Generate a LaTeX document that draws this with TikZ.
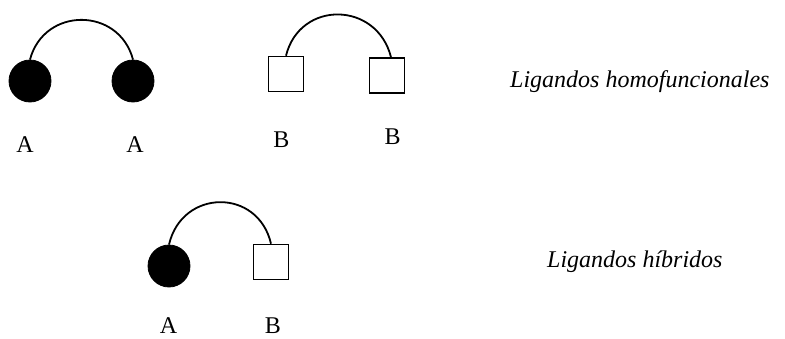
\documentclass[tikz,border=0pt]{standalone}
\usepackage{fontspec}
\setmainfont{Liberation Serif}
\begin{document}
\begin{tikzpicture}[x=1pt,y=-1pt,
  ball/.style={circle,draw,fill=black,minimum size=42pt,inner sep=0pt,line width=0.8pt},
  box/.style={rectangle,draw,fill=white,minimum size=35pt,inner sep=0pt,line width=1.6pt},
  lbl/.style={anchor=base,inner sep=0pt,font=\fontsize{24}{28}\selectfont},
  captxt/.style={anchor=base west,inner sep=0pt,font=\fontsize{24}{28}\selectfont\itshape},
  link/.style={line width=1.8pt}]
\useasboundingbox (0,0) rectangle (785,338);
% top row, A-A
\node[ball] (a1) at (30,81) {};
\node[ball] (a2) at (133,81) {};
\draw[link] (a1.north) .. controls +(14,-53) and +(-14,-53) .. (a2.north);
\node[lbl] (la1) at (25,152) {A};
\node[lbl] (la2) at (135,152) {A};
% top row, B-B
\node[box] (b1) at (286,74) {};
\node[box] (b2) at (387,75.5) {};
\draw[link] (b1.north) .. controls +(14,-56) and +(-14,-56) .. ([xshift=4pt]b2.north);
\node[lbl] (lb1) at (281.5,147) {B};
\node[lbl] (lb2) at (392.5,144) {B};
% bottom row, A-B
\node[ball] (c1) at (169,266) {};
\node[box] (c2) at (271,262) {};
\draw[link] (c1.north) .. controls +(13,-56) and +(-13,-56) .. (c2.north);
\node[lbl] (lc1) at (168.5,333) {A};
\node[lbl] (lc2) at (273,333) {B};
% captions
\node[captxt] (t1) at (510,87) {Ligandos homofuncionales};
\node[captxt] (t2) at (547,267) {Ligandos híbridos};
\end{tikzpicture}
\end{document}
